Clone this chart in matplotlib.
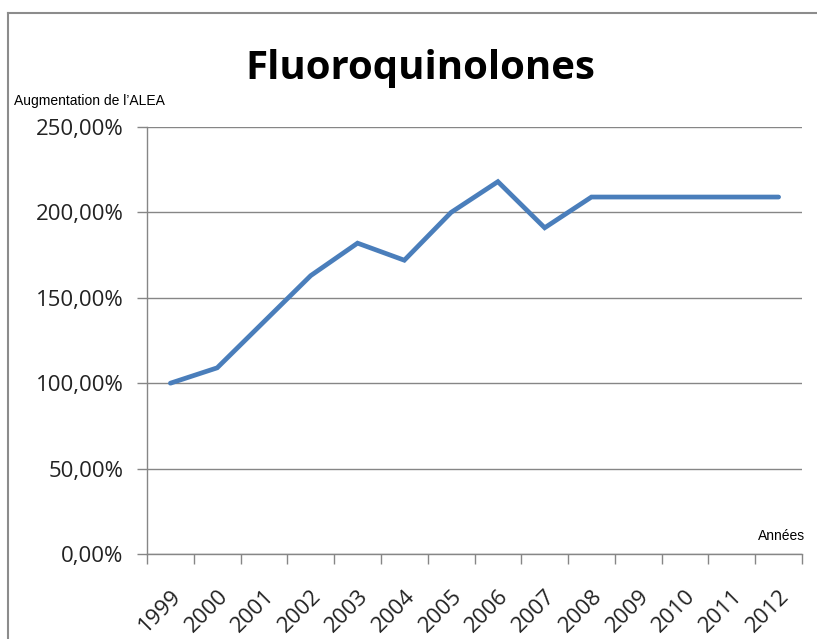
import matplotlib
matplotlib.use("Agg")
import matplotlib.pyplot as plt
from matplotlib.lines import Line2D
from matplotlib.ticker import FixedLocator, FuncFormatter

years = ["1999", "2000", "2001", "2002", "2003", "2004", "2005", "2006",
         "2007", "2008", "2009", "2010", "2011", "2012"]
values = [100, 109, 136, 163, 182, 172, 200, 218, 191, 209, 209, 209, 209, 209]
yticks = [0, 50, 100, 150, 200, 250]

W, H = 817, 639
fig = plt.figure(figsize=(W / 100, H / 100), dpi=100)
fig.patch.set_facecolor("white")

# outer chart frame (left and top visible)
fig.add_artist(Line2D([8 / W, 8 / W], [0, 1 - 13 / H], transform=fig.transFigure,
                      color="#8c8c8c", lw=1.5))
fig.add_artist(Line2D([8 / W, 1], [1 - 13 / H, 1 - 13 / H], transform=fig.transFigure,
                      color="#8c8c8c", lw=1.5))

ax = fig.add_axes([147 / W, 1 - 554 / H, (802 - 147) / W, (554 - 127) / H])
x = list(range(len(years)))
ax.plot(x, values, color="#4A7EBB", lw=3.4, solid_capstyle="round", solid_joinstyle="miter")

ax.set_xlim(-0.5, len(years) - 0.5)
ax.set_ylim(0, 250)
ax.yaxis.set_major_locator(FixedLocator(yticks))
ax.yaxis.set_major_formatter(FuncFormatter(lambda v, p: f"{v:.2f}".replace(".", ",") + "%"))
ax.grid(axis="y", color="#868686", lw=1)
ax.set_axisbelow(True)

for s in ["top", "right"]:
    ax.spines[s].set_visible(False)
ax.spines["left"].set_color("#868686")
ax.spines["bottom"].set_color("#868686")
ax.spines["left"].set_linewidth(1)
ax.spines["bottom"].set_linewidth(1)

ax.set_xticks(x)
ax.set_xticklabels(years, rotation=45, ha="right", rotation_mode="anchor",
                   fontsize=16, family="Open Sans")
ax.set_xticks([i - 0.5 for i in range(len(years) + 1)], minor=True)
ax.tick_params(axis="x", which="major", length=0, pad=23)
ax.tick_params(axis="x", which="minor", length=7, color="#868686", width=1)
ax.tick_params(axis="y", length=7, color="#868686", width=1, pad=10, labelsize=16)
for lab in ax.get_yticklabels():
    lab.set_family("Open Sans")
    lab.set_color("#222222")
for lab in ax.get_xticklabels():
    lab.set_color("#222222")

fig.text(420 / W, 1 - 68 / H, "Fluoroquinolones", ha="center", va="center",
         fontsize=29, fontweight="bold", family="Open Sans")
fig.text(14 / W, 1 - 101 / H, "Augmentation de l\u2019ALEA", ha="left", va="center",
         fontsize=10, family="Liberation Sans")
fig.text(805 / W, 1 - 536 / H, "Ann\u00e9es", ha="right", va="center",
         fontsize=10, family="Liberation Sans")

fig.savefig("out.png", dpi=100)
